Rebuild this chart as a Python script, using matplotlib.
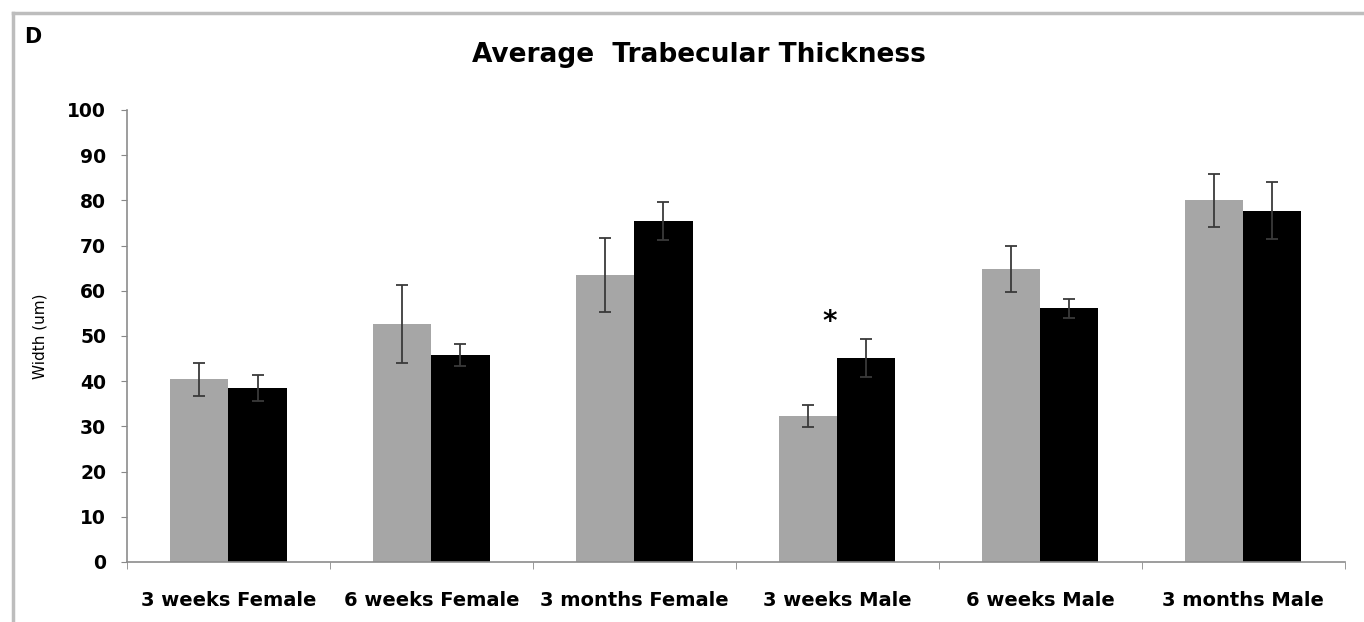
import numpy as np
import matplotlib.pyplot as plt
from matplotlib.lines import Line2D

# --- Data: average trabecular thickness per group ---
groups = ['3 weeks Female', '6 weeks Female', '3 months Female',
          '3 weeks Male', '6 weeks Male', '3 months Male']
gray_vals = [40.4, 52.6, 63.5, 32.3, 64.8, 80.0]
gray_err = [3.6, 8.6, 8.2, 2.5, 5.0, 5.8]
black_vals = [38.5, 45.8, 75.4, 45.1, 56.1, 77.7]
black_err = [2.9, 2.4, 4.2, 4.2, 2.1, 6.3]
yticks = np.arange(0, 101, 10)

# --- Plot ---
fig = plt.figure(figsize=(13.64, 6.22), dpi=100)
ax = fig.add_axes([0.0931, 0.0965, 0.8929, 0.7267])

x = np.arange(len(groups))
w = 0.286
err_style = dict(ecolor='#3a3a3a', elinewidth=1.3, capsize=4, capthick=1.3)
ax.bar(x - w / 2, gray_vals, w, color='#a6a6a6', yerr=gray_err, error_kw=err_style)
ax.bar(x + w / 2, black_vals, w, color='black', yerr=black_err, error_kw=err_style)

# significance mark over 3 weeks Male
ax.text(2.96, 53, '*', ha='center', va='center', fontsize=20, fontweight='bold')

ax.set_xlim(-0.5, len(groups) - 0.5)
ax.set_ylim(0, 100)
ax.set_yticks(yticks)
ax.set_yticklabels([str(v) for v in yticks], fontsize=13.5, fontweight='bold')
ax.set_xticks(x)
ax.set_xticklabels(groups, fontsize=14, fontweight='bold')
ax.set_xticks(np.arange(-0.5, len(groups)), minor=True)
ax.tick_params(axis='x', which='major', length=0, pad=21)
ax.tick_params(axis='x', which='minor', length=5, color='#888888')
ax.tick_params(axis='y', length=4, color='#888888', pad=11)

for side in ['top', 'right']:
    ax.spines[side].set_visible(False)
for side in ['left', 'bottom']:
    ax.spines[side].set_color('#8c8c8c')
    ax.spines[side].set_linewidth(1.2)

ax.set_ylabel('Width (um)', fontsize=11, labelpad=14)
fig.text(0.5125, 0.912, 'Average  Trabecular Thickness', ha='center', va='center',
         fontsize=19, fontweight='bold')
fig.text(0.018, 0.94, 'D', ha='left', va='center', fontsize=15, fontweight='bold')

# panel frame
fig.add_artist(Line2D([13 / 1364, 1], [1 - 13 / 622] * 2, transform=fig.transFigure,
                      color='#bdbdbd', linewidth=2.5))
fig.add_artist(Line2D([13 / 1364] * 2, [0, 1 - 13 / 622], transform=fig.transFigure,
                      color='#bdbdbd', linewidth=2.5))

fig.savefig('out.png', dpi=100)
